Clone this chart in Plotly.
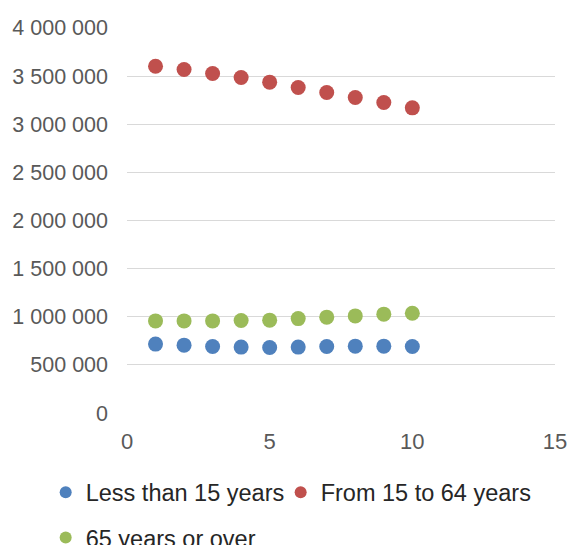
import plotly.graph_objects as go

x_vals = [1, 2, 3, 4, 5, 6, 7, 8, 9, 10]
less_15 = [716000, 705000, 691000, 685000, 680000, 685000, 691000, 695000, 695000, 691000]
from_15_64 = [3603000, 3568000, 3527000, 3485000, 3437000, 3382000, 3330000, 3278000, 3226000, 3170000]
over_65 = [957000, 957000, 957000, 961000, 965000, 981000, 996000, 1009000, 1027000, 1037000]

series_names = ["Less than 15 years", "From 15 to 64 years", "65 years or over"]
series_values = [less_15, from_15_64, over_65]
colors = ["#4F81BD", "#C0504D", "#9BBB59"]
legend_ids = ["legend", "legend2", "legend3"]

FONT = "Liberation Sans, Arial, sans-serif"

fig = go.Figure()
for name, vals, col, lg in zip(series_names, series_values, colors, legend_ids):
    fig.add_trace(go.Scatter(
        x=x_vals, y=vals, mode="markers", name=name, legend=lg,
        marker=dict(size=15, color=col, line=dict(width=0)),
    ))

legend_font = dict(family=FONT, size=23.5, color="#262626")


def leg(x, y):
    return dict(
        orientation="h", xref="paper", yref="paper",
        x=x, y=y, xanchor="left", yanchor="top",
        font=legend_font, itemsizing="constant",
        bgcolor="rgba(0,0,0,0)",
    )


fig.update_layout(
    width=570, height=545,
    margin=dict(l=127, r=15, t=27, b=131, autoexpand=False),
    paper_bgcolor="white", plot_bgcolor="white",
    separators=". ",
    font=dict(family=FONT, size=21, color="#595959"),
    showlegend=True,
    legend=leg(-0.190, -0.146),
    legend2=leg(0.359, -0.146),
    legend3=leg(-0.190, -0.263),
)
fig.update_xaxes(
    range=[0, 15], dtick=5, tick0=0, showgrid=False, zeroline=False,
    showline=False, ticks="", ticklabelstandoff=12, automargin=False,
    tickfont=dict(size=22, color="#595959"),
)
fig.update_yaxes(
    range=[-10000, 4010000], tickvals=[0, 500000, 1000000, 1500000, 2000000,
                                       2500000, 3000000, 3500000, 4000000],
    tickformat=",d",
    showgrid=True, gridcolor="#D9D9D9", gridwidth=1.3,
    zeroline=False, showline=False, ticks="", ticklabelstandoff=18,
    automargin=False,
    tickfont=dict(size=21.5, color="#595959"),
)

fig.write_html(
    "out.html",
    config={"displayModeBar": False},
    post_script="document.body.style.margin='0';document.body.style.overflow='hidden';",
)
